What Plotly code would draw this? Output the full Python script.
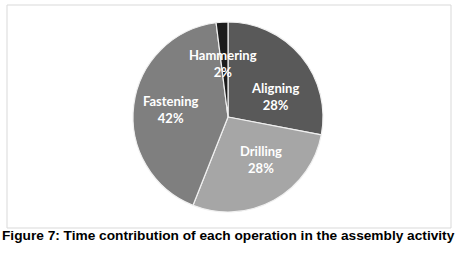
import math
import plotly.graph_objects as go

# ---- data ----
operations = ["Aligning", "Drilling", "Fastening", "Hammering"]
shares = [28, 28, 42, 2]
caption = "Figure 7: Time contribution of each operation in the assembly activity"

# ---- style ----
colors = ["#595959", "#a6a6a6", "#7f7f7f", "#1c1c1c"]
label_r = [0.64, 0.73, 0.61, 0.76]  # label distance as fraction of radius
W, H = 457, 259
cx, cy, R = 228, 117, 95  # pixel geometry of pie

fig = go.Figure()
fig.add_trace(go.Pie(
    labels=operations, values=shares, sort=False, direction="clockwise",
    rotation=0, textinfo="none", hoverinfo="label+percent",
    marker=dict(colors=colors, line=dict(color="#f0f0f0", width=1.2)),
    domain=dict(x=[(cx - R) / W, (cx + R) / W], y=[1 - (cy + R) / H, 1 - (cy - R) / H]),
    showlegend=False,
))

total = sum(shares)
cum = 0
for name, v, rf in zip(operations, shares, label_r):
    mid = (cum + v / 2) / total * 2 * math.pi
    cum += v
    px = cx + rf * R * math.sin(mid)
    py = cy - rf * R * math.cos(mid)
    fig.add_annotation(
        x=px / W, y=1 - py / H, xref="paper", yref="paper", showarrow=False,
        text=f"<b>{name}<br>{round(v / total * 100)}%</b>",
        font=dict(family="Lato", size=13, color="white"),
        align="center",
    )

fig.add_shape(type="rect", xref="paper", yref="paper",
              x0=7 / W, x1=451 / W, y0=1 - 228 / H, y1=1 - 5 / H,
              line=dict(color="#d9d9d9", width=1), layer="below")

fig.add_annotation(x=0.5, y=1 - 245 / H, xref="paper", yref="paper", showarrow=False,
                   text=f"<b>{caption}</b>",
                   font=dict(family="Liberation Sans", size=13.7, color="black"))

fig.update_layout(width=W, height=H, margin=dict(l=0, r=0, t=0, b=0),
                  paper_bgcolor="white", plot_bgcolor="white")
fig.write_html("out.html", config={"displayModeBar": False},
               post_script="document.body.style.margin='0';")
